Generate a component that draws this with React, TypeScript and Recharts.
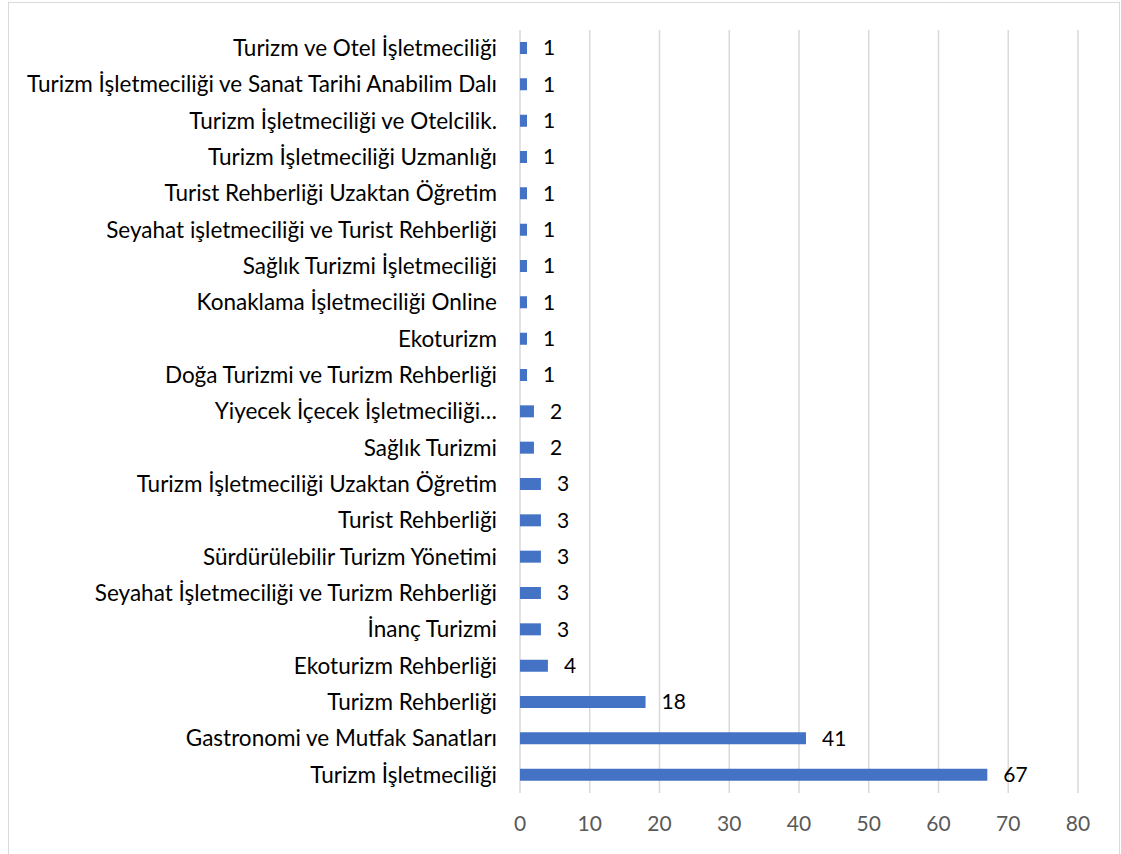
import { BarChart, Bar, XAxis, YAxis, CartesianGrid, LabelList } from 'recharts';

const programs = [
  'Turizm ve Otel İşletmeciliği',
  'Turizm İşletmeciliği ve Sanat Tarihi Anabilim Dalı',
  'Turizm İşletmeciliği ve Otelcilik.',
  'Turizm İşletmeciliği Uzmanlığı',
  'Turist Rehberliği Uzaktan Öğretim',
  'Seyahat işletmeciliği ve Turist Rehberliği',
  'Sağlık Turizmi İşletmeciliği',
  'Konaklama İşletmeciliği Online',
  'Ekoturizm',
  'Doğa Turizmi ve Turizm Rehberliği',
  'Yiyecek İçecek İşletmeciliği…',
  'Sağlık Turizmi',
  'Turizm İşletmeciliği Uzaktan Öğretim',
  'Turist Rehberliği',
  'Sürdürülebilir Turizm Yönetimi',
  'Seyahat İşletmeciliği ve Turizm Rehberliği',
  'İnanç Turizmi',
  'Ekoturizm Rehberliği',
  'Turizm Rehberliği',
  'Gastronomi ve Mutfak Sanatları',
  'Turizm İşletmeciliği',
];

const counts = [1, 1, 1, 1, 1, 1, 1, 1, 1, 1, 2, 2, 3, 3, 3, 3, 3, 4, 18, 41, 67];

const xTicks = [0, 10, 20, 30, 40, 50, 60, 70, 80];

const data = programs.map((name, i) => ({ name, value: counts[i] }));

const font = 'Lato, "Open Sans", sans-serif';

export default function App() {
  return (
    <div
      style={{
        position: 'absolute',
        left: 8,
        top: 2,
        width: 1110,
        height: 851,
        border: '1px solid #d9d9d9',
        background: '#fff',
        fontFamily: font,
      }}
    >
      <BarChart
        width={1110}
        height={851}
        data={data}
        layout="vertical"
        margin={{ top: 27, right: 41, bottom: 16, left: 0 }}
        barSize={12}
      >
        <CartesianGrid horizontal={false} stroke="#d9d9d9" strokeWidth={1.5} />
        <XAxis
          type="number"
          domain={[0, 80]}
          ticks={xTicks}
          axisLine={false}
          tickLine={false}
          tickMargin={17}
          height={45}
          tick={{ fill: '#595959', fontSize: 21, fontFamily: font }}
        />
        <YAxis
          type="category"
          dataKey="name"
          width={511}
          axisLine={false}
          tickLine={false}
          tickMargin={17}
          interval={0}
          tick={{ fill: '#000', fontSize: 22.5, fontFamily: font }}
        />
        <Bar dataKey="value" fill="#4472C4" isAnimationActive={false}>
          <LabelList
            dataKey="value"
            position="right"
            offset={16}
            style={{ fill: '#000', fontSize: 21, fontFamily: font }}
          />
        </Bar>
      </BarChart>
    </div>
  );
}
